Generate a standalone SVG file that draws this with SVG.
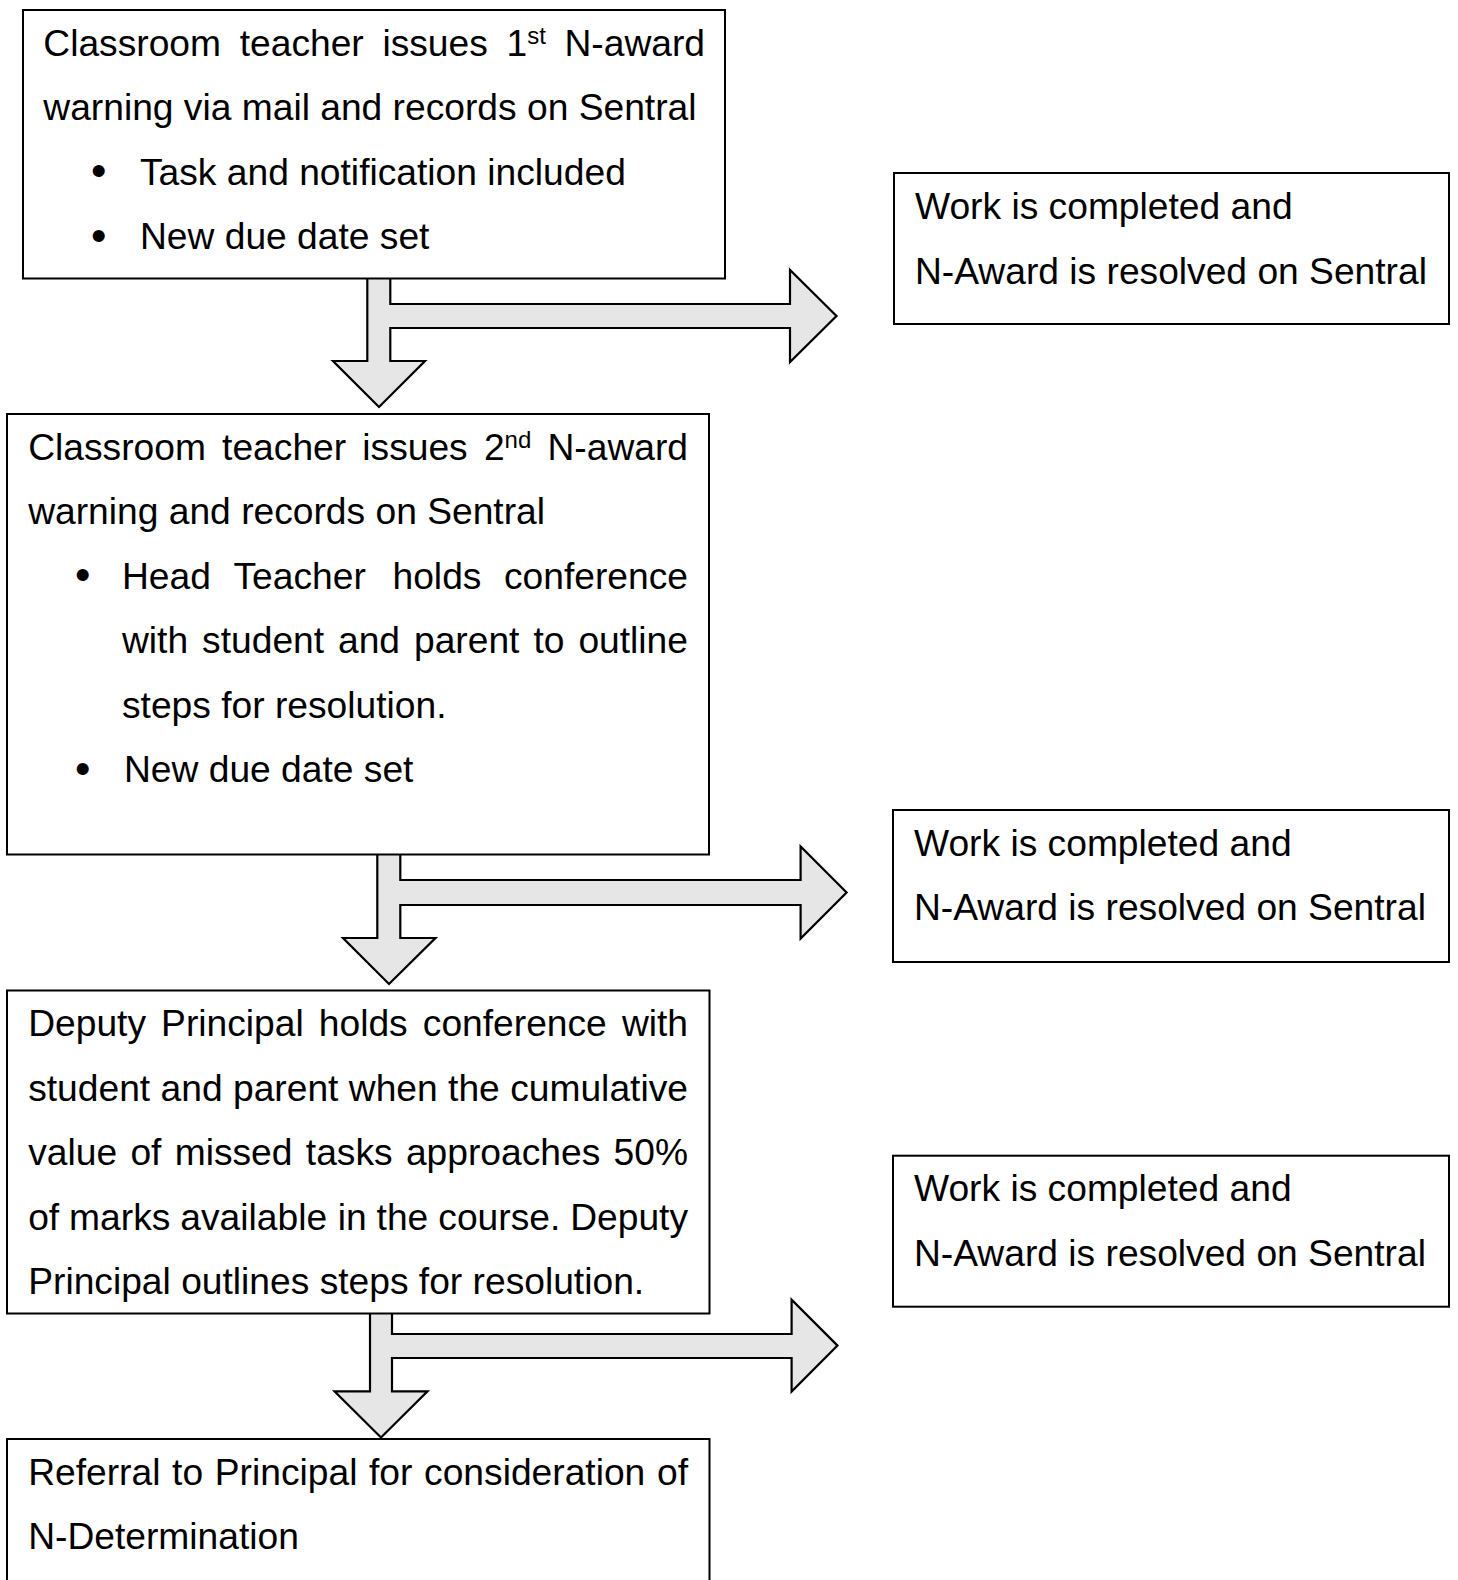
<svg xmlns="http://www.w3.org/2000/svg" width="1458" height="1580" viewBox="0 0 1458 1580">
<style>
.box{fill:#fff;stroke:#000;stroke-width:2}
.arr{fill:#e6e6e6;stroke:#000;stroke-width:2.2;stroke-linejoin:miter}
.t{font-family:"Liberation Sans",Arial,sans-serif;font-size:37.2px;fill:#000}
.b{font-family:"Liberation Sans",Arial,sans-serif;font-size:44px;fill:#000;text-anchor:middle}
.sup{font-size:24px}
</style>
<rect width="1458" height="1580" fill="#fff"/>
<g id="connectors">
<path class="arr" d="M367.3,278.5 L367.3,361 L333,361 L379,407 L425,361 L390.3,361 L390.3,328 L790,328 L790,362 L836.5,316 L790,270 L790,304 L390.3,304 L390.3,278.5"/>
<path class="arr" d="M377.3,854.5 L377.3,938 L343,938 L389,984 L435.5,938 L400.3,938 L400.3,905 L800.6,905 L800.6,938.5 L846.6,892.5 L800.6,846.5 L800.6,880 L400.3,880 L400.3,854.5"/>
<path class="arr" d="M370,1313.5 L370,1391.3 L334.5,1391.3 L381,1437.5 L427.5,1391.3 L392,1391.3 L392,1358 L791.6,1358 L791.6,1391.5 L837.5,1345.6 L791.6,1299.7 L791.6,1334 L392,1334 L392,1313.5"/>
</g>
<g id="node-step1">
<rect class="box" x="23" y="10" width="702" height="268.5"/>
<text class="t" y="55.7"><tspan x="43.3">Classroom</tspan> <tspan x="239.7">teacher</tspan> <tspan x="382.4">issues</tspan> <tspan x="506.5">1</tspan><tspan class="sup" dy="-12">st</tspan> <tspan x="564.5" dy="12">N-award</tspan></text>
<text class="t" x="43.3" y="120.2">warning via mail and records on Sentral</text>
<text class="b" x="98.7" y="186">•</text>
<text class="t" x="140" y="184.7">Task and notification included</text>
<text class="b" x="98.7" y="250.5">•</text>
<text class="t" x="140" y="249.2">New due date set</text>
</g>
<g id="node-resolved1">
<rect class="box" x="894" y="173" width="555" height="151"/>
<text class="t" x="915" y="219">Work is completed and</text>
<text class="t" x="915" y="283.5">N-Award is resolved on Sentral</text>
</g>
<g id="node-step2">
<rect class="box" x="7" y="414" width="702" height="440.5"/>
<text class="t" y="459.8"><tspan x="28.2">Classroom</tspan> <tspan x="222.1">teacher</tspan> <tspan x="362.3">issues</tspan> <tspan x="483.9">2</tspan><tspan class="sup" dy="-12">nd</tspan> <tspan x="547.5" dy="12">N-award</tspan></text>
<text class="t" x="28.2" y="524.3">warning and records on Sentral</text>
<text class="b" x="82.6" y="590.1">•</text>
<text class="t" y="588.8"><tspan x="122">Head</tspan> <tspan x="233.5">Teacher</tspan> <tspan x="392.5">holds</tspan> <tspan x="504">conference</tspan></text>
<text class="t" y="653.3"><tspan x="122">with</tspan> <tspan x="202.1">student</tspan> <tspan x="338">and</tspan> <tspan x="414">parent</tspan> <tspan x="533.4">to</tspan> <tspan x="578.4">outline</tspan></text>
<text class="t" x="122" y="717.8">steps for resolution.</text>
<text class="b" x="82.6" y="783.6">•</text>
<text class="t" x="124" y="782.3">New due date set</text>
</g>
<g id="node-resolved2">
<rect class="box" x="893" y="810" width="556" height="152"/>
<text class="t" x="914" y="855.8">Work is completed and</text>
<text class="t" x="914" y="920.3">N-Award is resolved on Sentral</text>
</g>
<g id="node-step3">
<rect class="box" x="7" y="990.5" width="702.5" height="323"/>
<text class="t" y="1036.1"><tspan x="28.2">Deputy</tspan> <tspan x="161.1">Principal</tspan> <tspan x="318.8">holds</tspan> <tspan x="422.8">conference</tspan> <tspan x="621.9">with</tspan></text>
<text class="t" y="1100.6"><tspan x="28.2">student</tspan> <tspan x="160.6">and</tspan> <tspan x="233">parent</tspan> <tspan x="348.8">when</tspan> <tspan x="448.1">the</tspan> <tspan x="510.2">cumulative</tspan></text>
<text class="t" y="1165.1"><tspan x="28.2">value</tspan> <tspan x="130.4">of</tspan> <tspan x="174.7">missed</tspan> <tspan x="305.8">tasks</tspan> <tspan x="405.9">approaches</tspan> <tspan x="613.6">50%</tspan></text>
<text class="t" y="1229.6"><tspan x="28.2">of</tspan> <tspan x="69.1">marks</tspan> <tspan x="180.3">available</tspan> <tspan x="337.8">in</tspan> <tspan x="376.6">the</tspan> <tspan x="438.3">course.</tspan> <tspan x="570.2">Deputy</tspan></text>
<text class="t" x="28.2" y="1294.1">Principal outlines steps for resolution.</text>
</g>
<g id="node-resolved3">
<rect class="box" x="893" y="1155.7" width="556" height="151"/>
<text class="t" x="914" y="1201.4">Work is completed and</text>
<text class="t" x="914" y="1265.9">N-Award is resolved on Sentral</text>
</g>
<g id="node-step4">
<rect class="box" x="7" y="1439" width="702.5" height="160"/>
<text class="t" y="1484.5"><tspan x="28.2">Referral</tspan> <tspan x="172.1">to</tspan> <tspan x="214.8">Principal</tspan> <tspan x="369">for</tspan> <tspan x="424.1">consideration</tspan> <tspan x="657">of</tspan></text>
<text class="t" x="28.2" y="1549">N-Determination</text>
</g>
</svg>
